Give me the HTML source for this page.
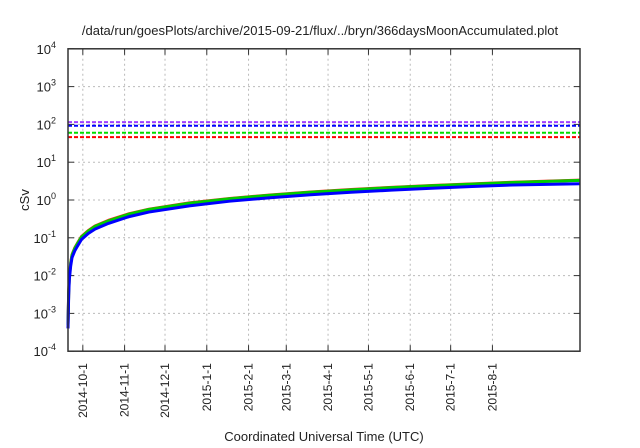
<!DOCTYPE html>
<html><head><meta charset="utf-8"><style>
body{margin:0;background:#fff}
svg{display:block;font-family:"Liberation Sans",sans-serif}
</style></head><body>
<svg id="c" width="640" height="448"></svg>
<script>
const days=[0,0.5,1,2,3,5,7,10,15,20,30,45,60,90,120,150,180,210,240,270,300,330,380];
const blueVals=[0.0004,0.003,0.008,0.018,0.03,0.045,0.06,0.09,0.13,0.17,0.24,0.36,0.48,0.7,0.93,1.15,1.38,1.6,1.82,2.05,2.27,2.5,2.7];
const greenVals=[0.0005,0.0035,0.009,0.021,0.035,0.052,0.07,0.105,0.15,0.2,0.28,0.42,0.56,0.82,1.08,1.34,1.6,1.86,2.12,2.38,2.64,2.9,3.3];
const redVals=[0.0005,0.0036,0.0095,0.022,0.036,0.054,0.072,0.108,0.155,0.205,0.29,0.43,0.57,0.84,1.1,1.36,1.63,1.9,2.16,2.42,2.68,2.95,3.35];
const limitNames=['purple-limit','blue-limit','green-limit','red-limit'];
const limitVals=[115,92,60,46];
const limitColors=['#a040ff','#0000ff','#00dd00','#ff0000'];
const yTickExps=[-4,-3,-2,-1,0,1,2,3,4];
const xTickLabels=['2014-10-1','2014-11-1','2014-12-1','2015-1-1','2015-2-1','2015-3-1','2015-4-1','2015-5-1','2015-6-1','2015-7-1','2015-8-1'];
const xTickDays=[11,42,72,103,134,162,193,223,254,284,315];
const L=68,R=580,T=48.8,B=351.2,D0=0,D1=380;
const xs=d=>L+(d-D0)/(D1-D0)*(R-L);
const ys=v=>B-(Math.log10(v)+4)/8*(B-T);
const svg=document.getElementById('c');const NS='http://www.w3.org/2000/svg';
function mk(t,a,p){const e=document.createElementNS(NS,t);for(const k in a)e.setAttribute(k,a[k]);(p||svg).appendChild(e);return e;}
let t=mk('text',{x:320,y:35,'text-anchor':'middle','font-size':13,fill:'#222'});t.textContent='/data/run/goesPlots/archive/2015-09-21/flux/../bryn/366daysMoonAccumulated.plot';

yTickExps.forEach(e=>{const y=ys(Math.pow(10,e));
 const g=mk('line',{x1:L,x2:R,y1:y,y2:y,stroke:'#bbb','stroke-dasharray':'2,3','stroke-width':1});
 
 mk('line',{x1:L,x2:L+6,y1:y,y2:y,stroke:'#333'});mk('line',{x1:R-6,x2:R,y1:y,y2:y,stroke:'#333'});
 const tx=mk('text',{x:56,y:y+5,'text-anchor':'end','font-size':13,fill:'#222'});
 
 tx.textContent='10';const s=mk('tspan',{dy:-6,'font-size':9},tx);s.textContent=e;
});
xTickDays.forEach((d,i)=>{const x=xs(d);
 const g=mk('line',{x1:x,x2:x,y1:T,y2:B,stroke:'#bbb','stroke-dasharray':'2,3','stroke-width':1});
 
 mk('line',{x1:x,x2:x,y1:B-6,y2:B,stroke:'#333'});mk('line',{x1:x,x2:x,y1:T,y2:T+6,stroke:'#333'});
 const tx=mk('text',{x:0,y:0,'text-anchor':'end','font-size':12,fill:'#222',transform:`translate(${x+4},${B+12}) rotate(-90)`});
 
 tx.textContent=xTickLabels[i];
});
limitVals.forEach((v,i)=>{const y=ys(v);
 const l=mk('line',{x1:L,x2:R,y1:y,y2:y,stroke:limitColors[i],'stroke-width':2,'stroke-dasharray':'4,2'});
 
});
[[redVals,'#ff2020','red-series'],[greenVals,'#00cc00','green-series'],[blueVals,'#0000ff','blue-series']].forEach(([vals,c,n])=>{
 const p=mk('polyline',{points:days.map((d,i)=>xs(d)+','+ys(vals[i])).join(' '),fill:'none',stroke:c,'stroke-width':3,'stroke-linejoin':'round'});
 
});
const f=mk('rect',{x:L,y:T,width:R-L,height:B-T,fill:'none',stroke:'#333','stroke-width':1.5});

t=mk('text',{x:0,y:0,'text-anchor':'middle','font-size':13,fill:'#222',transform:'translate(29,200) rotate(-90)'});t.textContent='cSv';

t=mk('text',{x:324,y:441,'text-anchor':'middle','font-size':13,fill:'#222'});t.textContent='Coordinated Universal Time (UTC)';

</script>
</body></html>
